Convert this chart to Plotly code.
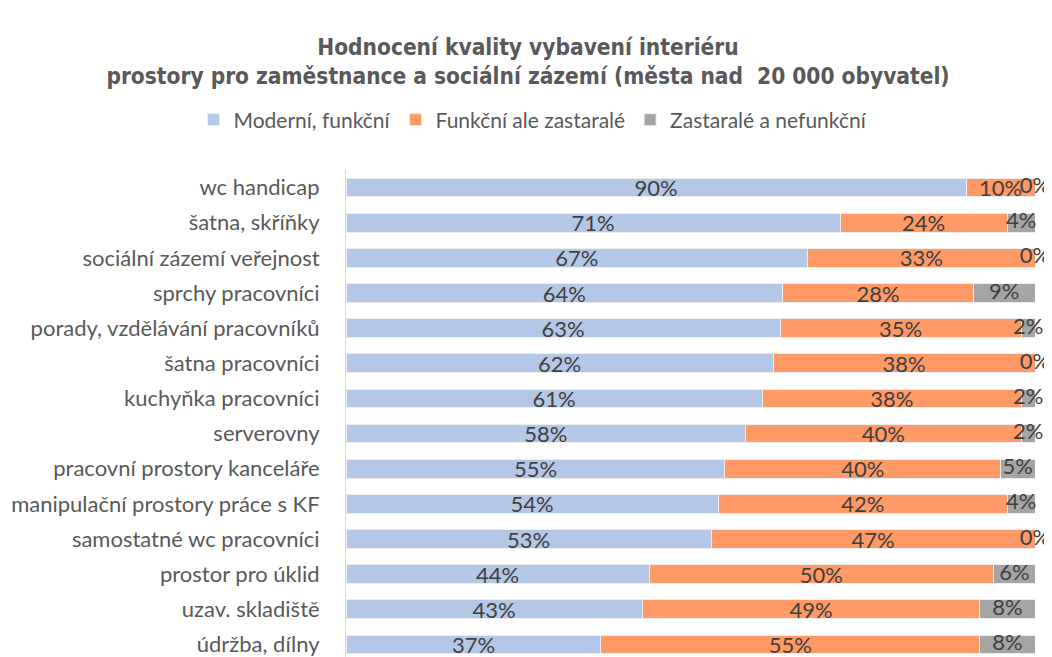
import plotly.graph_objects as go

categories = [
    "wc handicap", "šatna, skříňky", "sociální zázemí veřejnost", "sprchy pracovníci",
    "porady, vzdělávání pracovníků", "šatna pracovníci", "kuchyňka pracovníci", "serverovny",
    "pracovní prostory kanceláře", "manipulační prostory práce s KF", "samostatné wc pracovníci",
    "prostor pro úklid", "uzav. skladiště", "údržba, dílny",
]
moderni = [90, 71, 67, 64, 63, 62, 61, 58, 55, 54, 53, 44, 43, 37]
funkcni_zastarale = [10, 24, 33, 28, 35, 38, 38, 40, 40, 42, 47, 50, 49, 55]
nefunkcni = [0, 4, 0, 9, 2, 0, 2, 2, 5, 4, 0, 6, 8, 8]

series_names = ["Moderní, funkční", "Funkční ale zastaralé", "Zastaralé a nefunkční"]
colors = ["#B4C7E7", "#FF9966", "#A5A5A5"]

FONT = "Lato, Carlito, Calibri, sans-serif"
label_font = dict(family=FONT, size=22, color="#404040")

fig = go.Figure()
for name, vals, col, show_text in zip(series_names, [moderni, funkcni_zastarale, nefunkcni], colors, [True, True, False]):
    fig.add_trace(go.Bar(
        y=categories, x=vals, name=name, orientation="h",
        marker=dict(color=col, line=dict(color="#EDEDED", width=1)),
        text=[f"{v}%" for v in vals] if show_text else None,
        textposition="inside" if show_text else "none",
        insidetextanchor="middle", constraintext="none",
        textfont=label_font,
        hoverinfo="skip",
    ))

# labels for the third segment (including zero-width ones), centred on the segment
gray_x = [100.0 * (m + f + z / 2) / (m + f + z) for m, f, z in zip(moderni, funkcni_zastarale, nefunkcni)]
fig.add_trace(go.Scatter(
    x=gray_x, y=categories, mode="text", text=[f"{v}%" for v in nefunkcni],
    textposition="middle center", textfont=label_font, showlegend=False,
    cliponaxis=False, hoverinfo="skip",
))

n = len(categories)
fig.update_layout(
    barmode="stack", barnorm="percent", bargap=0.47,
    width=1052, height=657,
    margin=dict(l=335, r=25, t=162, b=3),
    paper_bgcolor="white", plot_bgcolor="white",
    title=dict(
        text="Hodnocení kvality vybavení interiéru<br>prostory pro zaměstnance a sociální zázemí (města nad\u00a0 20 000 obyvatel)",
        font=dict(family="Liberation Sans Narrow, DejaVu Sans Condensed, Arial Narrow, sans-serif", size=22.5, color="#595959", weight="bold"),
        x=(528 - 8) / 1052, xref="container", xanchor="center",
        y=1 - 47 / 657, yref="container", yanchor="top",
    ),
    legend=dict(
        orientation="h", xref="container", yref="container",
        x=(533 - 8) / 1052, xanchor="center", y=1 - (120 - 8) / 657, yanchor="middle",
        font=dict(family=FONT, size=21, color="#595959"),
        traceorder="normal", itemwidth=30,
    ),
    showlegend=True,
    xaxis=dict(range=[0, 100], showticklabels=False, showgrid=False, zeroline=False, showline=False, ticks=""),
    yaxis=dict(
        categoryorder="array", categoryarray=categories,
        range=[n - 0.5, -0.5],
        showline=True, linecolor="#D9D9D9", linewidth=1, ticks="",
        ticklabelstandoff=21,
        tickfont=dict(family=FONT, size=22, color="#595959"),
        showgrid=False, zeroline=False,
    ),
)

fig.write_html("out.html")
